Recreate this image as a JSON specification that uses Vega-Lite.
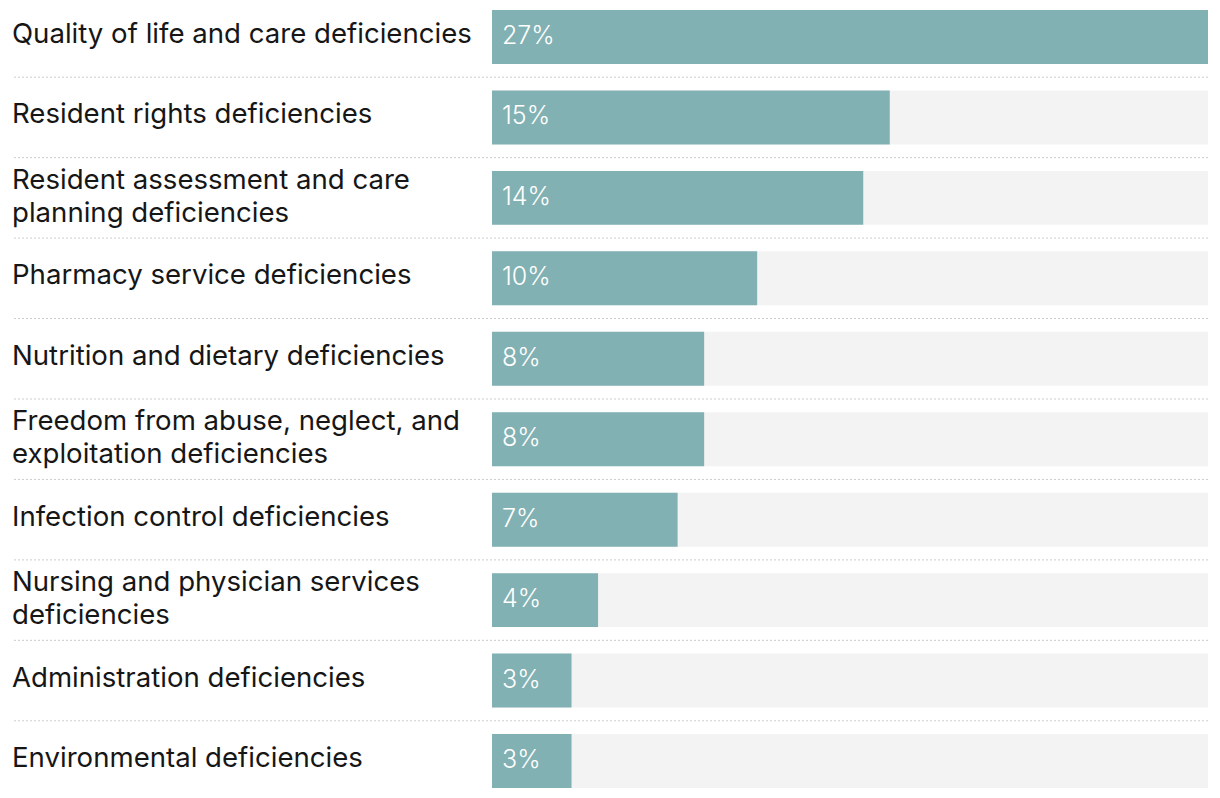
{
  "$schema": "https://vega.github.io/schema/vega-lite/v6.json",
  "width": 1196,
  "height": 798,
  "padding": {"left": 12, "right": 12, "top": 0, "bottom": 0},
  "autosize": {"type": "none"},
  "background": "white",
  "config": {"view": {"stroke": null}, "font": "Inter"},
  "data": {
    "values": [
      {"category": "Quality of life and care deficiencies", "share": 0.27},
      {"category": "Resident rights deficiencies", "share": 0.15},
      {"category": "Resident assessment and care\nplanning deficiencies", "share": 0.14},
      {"category": "Pharmacy service deficiencies", "share": 0.10},
      {"category": "Nutrition and dietary deficiencies", "share": 0.08},
      {"category": "Freedom from abuse, neglect, and\nexploitation deficiencies", "share": 0.08},
      {"category": "Infection control deficiencies", "share": 0.07},
      {"category": "Nursing and physician services\ndeficiencies", "share": 0.04},
      {"category": "Administration deficiencies", "share": 0.03},
      {"category": "Environmental deficiencies", "share": 0.03}
    ]
  },
  "layer": [
    {
      "mark": {"type": "bar", "color": "#f3f3f3"},
      "encoding": {
        "y": {"field": "category", "type": "nominal", "sort": null, "scale": {"paddingInner": 0.329, "paddingOuter": 0.124}, "axis": null},
        "x": {"datum": 0.27, "type": "quantitative", "scale": {"domain": [-0.181, 0.27], "nice": false, "zero": false}, "axis": null},
        "x2": {"datum": 0}
      }
    },
    {
      "mark": {"type": "bar", "color": "#82b1b3"},
      "encoding": {
        "y": {"field": "category", "type": "nominal", "sort": null},
        "x": {"field": "share", "type": "quantitative"},
        "x2": {"datum": 0}
      }
    },
    {
      "transform": [{"filter": "datum.category != 'Environmental deficiencies'"}],
      "mark": {"type": "rule", "color": "#cccccc", "strokeDash": [2, 2], "strokeWidth": 1},
      "encoding": {
        "y": {"field": "category", "type": "nominal", "sort": null, "bandPosition": 1.245}
      }
    },
    {
      "mark": {"type": "text", "align": "left", "baseline": "middle", "dx": 10, "dy": -1, "fontSize": 25, "fontWeight": 300, "color": "white"},
      "encoding": {
        "y": {"field": "category", "type": "nominal", "sort": null},
        "x": {"datum": 0, "type": "quantitative"},
        "text": {"field": "share", "type": "quantitative", "format": ".0%"}
      }
    },
    {
      "mark": {"type": "text", "align": "left", "baseline": "middle", "fontSize": 27.6, "fontWeight": 400, "color": "#161616", "lineBreak": "\n", "lineHeight": 33,
        "dy": {"expr": "indexof(datum.category, '\\n') >= 0 ? -17 : -2"}},
      "encoding": {
        "y": {"field": "category", "type": "nominal", "sort": null},
        "x": {"datum": -0.181, "type": "quantitative"},
        "text": {"field": "category", "type": "nominal"}
      }
    }
  ]
}
